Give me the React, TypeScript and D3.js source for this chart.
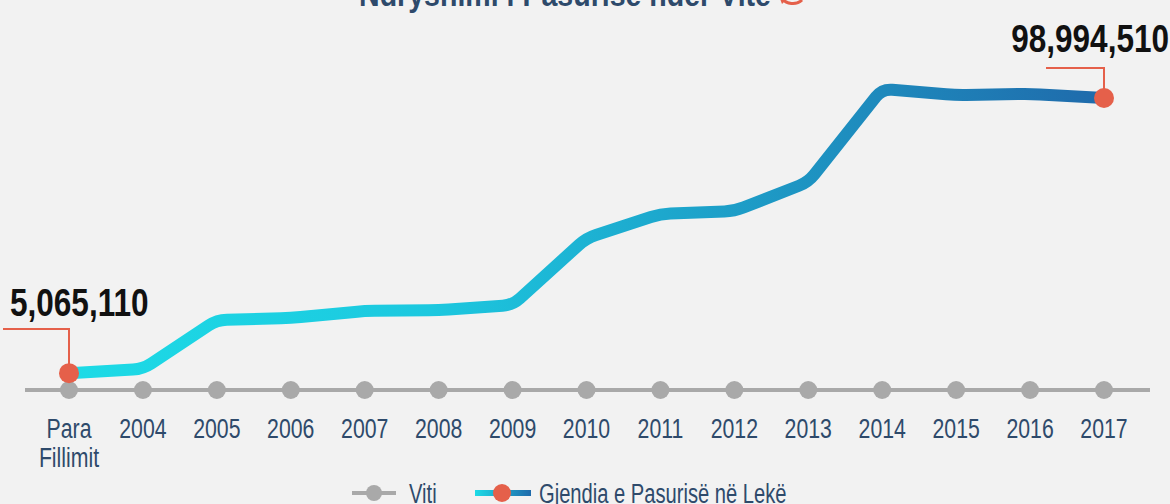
import React from "react";
import * as d3 from "d3";

const categories = ["Para|Fillimit", "2004", "2005", "2006", "2007", "2008", "2009", "2010", "2011", "2012", "2013", "2014", "2015", "2016", "2017"];
const values = [5065110, 6500000, 23200000, 23900000, 26300000, 26600000, 28300000, 51200000, 59400000, 60400000, 70300000, 102100000, 100000000, 100400000, 98994510];
const firstLabel = "5,065,110";
const lastLabel = "98,994,510";
const title = "Ndryshimi i Pasurisë ndër Vite";
const legendItems = ["Viti", "Gjendia e Pasurisë në Lekë"];

const W = 1170, H = 504;
const FONT = "'Liberation Sans', Arial, sans-serif";
const BLUE = "#2e4a6b";
const RED = "#e5604a";
const GRAY = "#a9a9a9";

function CText({ x, y, sx = 0.76, anchor = "start", size = 28, weight = "normal", fill = BLUE, children }: any) {
  return (
    <text transform={`translate(${x},${y}) scale(${sx},1)`} textAnchor={anchor} fontSize={size} fontWeight={weight} fill={fill}>
      {children}
    </text>
  );
}

function roundedPath(pts: [number, number][], r: number) {
  const p = d3.path();
  p.moveTo(pts[0][0], pts[0][1]);
  for (let i = 1; i < pts.length - 1; i++) {
    const [ax, ay] = pts[i - 1], [bx, by] = pts[i], [cx, cy] = pts[i + 1];
    const l1 = Math.hypot(bx - ax, by - ay), l2 = Math.hypot(cx - bx, cy - by);
    const r1 = Math.min(r, l1 / 2), r2 = Math.min(r, l2 / 2);
    p.lineTo(bx - ((bx - ax) / l1) * r1, by - ((by - ay) / l1) * r1);
    p.quadraticCurveTo(bx, by, bx + ((cx - bx) / l2) * r2, by + ((cy - by) / l2) * r2);
  }
  const last = pts[pts.length - 1];
  p.lineTo(last[0], last[1]);
  return p.toString();
}

export default function App() {
  const x = d3.scalePoint<string>().domain(categories).range([69, 1104]);
  const y = d3.scaleLinear().domain([0, 98994510]).range([388, 98]);
  const pts = values.map((v, i) => [x(categories[i])!, y(v)] as [number, number]);
  const axisY = 390;
  const x0 = pts[0][0], y0 = pts[0][1];
  const xn = pts[pts.length - 1][0], yn = pts[pts.length - 1][1];
  return (
    <svg width={W} height={H} style={{ position: "absolute", left: 0, top: 0, background: "#f2f2f2", fontFamily: FONT }}>
      <defs>
        <linearGradient id="lg" gradientUnits="userSpaceOnUse" x1={x0} x2={xn} y1={0} y2={0}>
          <stop offset="0%" stopColor="#1ddbe6" />
          <stop offset="35%" stopColor="#1cc8df" />
          <stop offset="100%" stopColor="#1f6aab" />
        </linearGradient>
        <linearGradient id="lg2" x1="0" x2="1" y1="0" y2="0">
          <stop offset="0%" stopColor="#1ddbe6" />
          <stop offset="100%" stopColor="#1f6aab" />
        </linearGradient>
      </defs>
      <rect width={W} height={H} fill="#f2f2f2" />
      <CText x={565} y={6} anchor="middle" size={34} weight="bold" sx={0.84}>{title}</CText>
      <path d="M782,-2 A12,10 0 0 0 802,0" fill="none" stroke={RED} strokeWidth={3} />
      <path d="M779,-4 L782,4 L787,-1 Z" fill={RED} />
      <line x1={25} x2={1150} y1={axisY} y2={axisY} stroke={GRAY} strokeWidth={4} />
      {categories.map((c) => (
        <circle key={c} cx={x(c)} cy={axisY} r={9} fill={GRAY} />
      ))}
      {categories.map((c) => {
        const parts = c.split("|");
        return parts.map((p, i) => (
          <CText key={c + i} x={x(c)} y={438 + i * 29} anchor="middle">{p}</CText>
        ));
      })}
      <path d={roundedPath(pts, 10)} fill="none" stroke="url(#lg)" strokeWidth={12} strokeLinejoin="round" />
      <polyline points={`3,329 ${x0},329 ${x0},${y0}`} fill="none" stroke={RED} strokeWidth={2} />
      <polyline points={`1046,68 ${xn},68 ${xn},${yn}`} fill="none" stroke={RED} strokeWidth={2} />
      <circle cx={x0} cy={y0} r={10} fill={RED} />
      <circle cx={xn} cy={yn} r={10} fill={RED} />
      <CText x={10} y={316} size={38} weight="bold" fill="#111" sx={0.83}>{firstLabel}</CText>
      <CText x={1169} y={52} anchor="end" size={38} weight="bold" fill="#111" sx={0.83}>{lastLabel}</CText>
      <g>
        <line x1={352} x2={396} y1={493} y2={493} stroke={GRAY} strokeWidth={4} />
        <circle cx={374} cy={493} r={8} fill={GRAY} />
        <CText x={409} y={503} sx={0.72}>{legendItems[0]}</CText>
        <rect x={475} y={490} width={56} height={6} fill="url(#lg2)" />
        <circle cx={502} cy={493} r={9} fill={RED} />
        <CText x={539} y={503} sx={0.72}>{legendItems[1]}</CText>
      </g>
    </svg>
  );
}
